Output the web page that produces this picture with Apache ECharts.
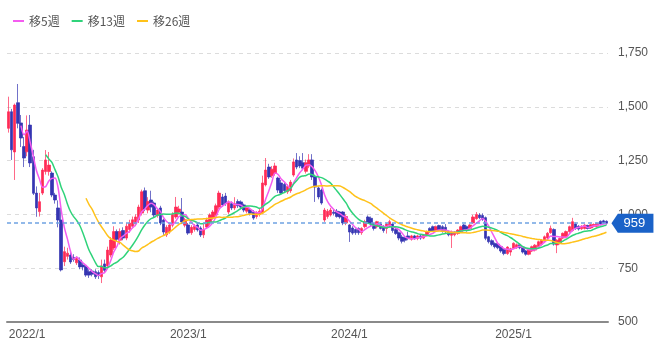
<!DOCTYPE html>
<html><head><meta charset="utf-8">
<script src="https://cdn.jsdelivr.net/npm/echarts@6/dist/echarts.min.js"></script>
<style>html,body{margin:0;padding:0;background:#fff}#c{width:659px;height:360px}</style>
</head><body><div id="c"></div>
<script>
// ---- data ----
const startDate = '2021-11-22'; // first weekly bar (Monday)
const yMin = 500, yMax = 1750, yStep = 250;
const lastPrice = 959;
const maNames = ['移5週', '移13週', '移26週'];
const maPeriods = [5, 13, 26];
const maColors = ['#f45cf0', '#2fd37a', '#ffc21a'];

// weekly candles [open, close, low, high]
const weeks2021 = [
  [1400,1477,1380,1547],[1477,1300,1253,1490],[1290,1508,1160,1515],[1519,1423,1400,1606],
  [1425,1355,1313,1462],[1315,1262,1220,1360]
];
const weeks2022 = [
  [1291,1392,1270,1460],[1415,1239,1220,1462],[1268,1098,1090,1300],[1099,1030,989,1130],
  [1013,1059,990,1100],[1099,1206,1090,1215],[1199,1253,1185,1299],[1199,1229,1180,1290],
  [1192,1090,1080,1200],[1090,1067,1050,1100],[1030,974,940,1065],[974,742,735,1030],
  [780,827,760,850],[805,820,790,845],[811,779,770,830],[800,790,780,815],
  [775,795,765,805],[788,756,745,800],[765,756,740,780],[757,718,710,765],
  [734,718,705,745],[737,722,712,745],[734,710,700,745],[730,715,700,740],
  [710,760,681,790],[770,740,730,790],[760,834,750,850],[811,881,800,895],
  [844,920,835,945],[920,885,875,930],[880,920,860,935],[925,890,880,940],
  [890,945,880,960],[930,960,915,975],[945,975,935,990],[955,988,945,1000],
  [974,1034,960,1045],[1006,1105,995,1115],[1110,1025,1015,1125],[1020,1060,1005,1080],
  [1067,1034,1010,1110],[1053,997,985,1060],[995,1020,985,1030],[1030,960,950,1040],
  [974,918,905,980],[905,940,895,950],[918,951,910,960],[950,1000,940,1010],
  [988,1034,980,1081],[1010,1025,1000,1040],[1011,965,955,1076],[950,975,940,985]
];
const weeks2023 = [
  [951,913,905,960],[915,940,905,950],[930,945,920,955],[951,928,920,960],
  [937,904,895,945],[905,930,890,960],[941,974,935,985],[960,997,950,1005],
  [983,1011,975,1020],[1000,1040,990,1050],[1034,1099,1025,1110],[1081,1044,1035,1095],
  [1085,1050,1040,1100],[1011,1058,1000,1065],[1050,1030,1020,1060],[1030,1050,1020,1080],
  [1060,1040,1030,1070],[1058,1034,1025,1065],[1044,1020,1010,1050],[1015,1030,1005,1040],
  [1020,1005,995,1030],[1011,983,975,1020],[990,1005,980,1015],[1000,1015,990,1025],
  [1006,1146,1000,1180],[1137,1206,1130,1262],[1220,1174,1165,1235],[1180,1210,1170,1225],
  [1190,1225,1180,1240],[1169,1113,1100,1175],[1146,1099,1090,1160],[1140,1110,1100,1150],
  [1105,1130,1095,1140],[1110,1150,1100,1160],[1183,1244,1175,1260],[1253,1220,1210,1285],
  [1250,1225,1215,1270],[1240,1215,1205,1285],[1200,1240,1190,1255],[1225,1253,1215,1280],
  [1253,1174,1160,1280],[1174,1127,1058,1185],[1123,1081,1070,1130],[1113,1053,1045,1120],
  [974,1020,965,1030],[990,1015,980,1025],[997,1020,990,1030],[1010,1005,995,1025],
  [1015,990,985,1025],[1011,988,980,1015],[1011,960,950,1015],[960,990,950,1000]
];
const weeks2024 = [
  [951,918,872,955],[937,913,905,945],[930,915,905,935],[935,915,905,940],
  [915,935,905,940],[943,966,935,975],[988,960,955,995],[982,955,945,990],
  [955,935,925,960],[943,966,935,970],[955,935,930,965],[943,925,915,950],
  [935,955,911,960],[945,966,940,975],[955,925,915,960],[930,911,905,940],
  [915,890,880,920],[895,875,865,905],[890,880,870,897],[900,888,880,920],
  [885,900,878,905],[900,890,882,905],[888,900,880,905],[900,890,882,905],
  [890,903,885,908],[903,920,898,925],[935,922,915,940],[943,925,918,948],
  [928,943,922,948],[948,928,922,952],[943,922,915,950],[940,920,912,955],
  [920,905,898,925],[903,918,844,925],[905,917,898,922],[911,927,905,932],
  [920,943,915,948],[951,930,922,955],[943,928,920,948],[935,951,930,955],
  [960,988,955,998],[980,1000,975,1011],[997,985,978,1006],[995,978,970,1005],
  [985,889,880,990],[896,873,865,900],[878,860,852,884],[865,850,842,870],
  [862,845,838,868],[850,830,822,855],[838,818,810,842],[818,848,812,852],
  [825,840,808,845]
];
const weeks2025 = [
  [843,866,838,870],[845,859,840,865],[859,845,838,865],[848,825,818,852],
  [830,815,808,835],[815,835,810,840],[830,850,825,855],[834,857,828,862],
  [850,873,845,878],[860,880,855,885],[875,896,870,902],[890,912,885,918],
  [915,935,910,948],[930,862,855,935],[858,880,820,885],[868,888,860,892],
  [890,912,885,916],[898,920,893,925],[920,943,915,948],[925,966,920,984],
  [955,935,928,962],[945,932,925,950],[933,945,928,950],[935,950,930,955],
  [948,935,930,952],[937,952,932,957],[945,953,940,958],[945,958,940,962],
  [968,955,950,972],[970,960,955,975],[968,959,952,972]
];

// ---- build ----
const candles = [].concat(weeks2021, weeks2022, weeks2023, weeks2024, weeks2025);
const dates = [];
{
  const d0 = new Date(startDate + 'T00:00:00Z');
  for (let i = 0; i < candles.length; i++) {
    const d = new Date(d0.getTime() + i * 7 * 86400000);
    dates.push(d.getUTCFullYear() + '/' + (d.getUTCMonth() + 1) + '/' + d.getUTCDate());
  }
}
function isYearStart(i) {
  const m = +dates[i].split('/')[1];
  if (m !== 1) return false;
  if (i === 0) return true;
  return +dates[i - 1].split('/')[1] !== 1;
}
function movingAvg(n) {
  const out = [];
  for (let i = 0; i < candles.length; i++) {
    if (i < n - 1) { out.push(null); continue; }
    let s = 0;
    for (let j = i - n + 1; j <= i; j++) s += candles[j][1];
    out.push(+(s / n).toFixed(2));
  }
  return out;
}

const chart = echarts.init(document.getElementById('c'), null, { renderer: 'canvas' });
const axisFont = "'Liberation Sans', Arial, sans-serif";
const cjkFont = "'Noto Sans CJK JP', 'Noto Sans', sans-serif";

const series = [{
  type: 'candlestick',
  name: 'price',
  data: candles,
  barWidth: 3,
  itemStyle: {
    color: '#ff2a55', color0: '#3535b2',
    borderColor: 'rgba(255,42,85,0.7)', borderColor0: 'rgba(53,53,178,0.7)',
    borderWidth: 1
  },
  markLine: {
    silent: true, symbol: 'none',
    lineStyle: { color: '#6fa3e2', type: [4, 3], width: 1.5 },
    label: { show: false },
    data: [{ yAxis: lastPrice }]
  },
  markPoint: {
    silent: true,
    symbol: 'path://M0,10 L7,0 L46,0 L46,20 L7,20 Z',
    symbolSize: [42, 19],
    symbolOffset: [26, 0],
    itemStyle: { color: '#1a62c8' },
    label: {
      show: true, position: 'inside', color: '#fff', fontSize: 13, fontFamily: axisFont,
      offset: [2, 0], formatter: String(lastPrice)
    },
    data: [{ coord: [dates[dates.length - 1], lastPrice], value: lastPrice }]
  },
  z: 2
}];
maNames.forEach((nm, k) => {
  series.push({
    type: 'line', name: nm, data: movingAvg(maPeriods[k]),
    showSymbol: false, symbol: 'none', smooth: 0.3,
    lineStyle: { color: maColors[k], width: 1.5 },
    itemStyle: { color: maColors[k] },
    z: 3
  });
});

chart.setOption({
  animation: false,
  backgroundColor: '#fff',
  legend: {
    data: maNames, left: 8, top: 10,
    icon: 'rect', itemWidth: 11, itemHeight: 2, itemGap: 12,
    textStyle: { color: '#555', fontSize: 12, fontFamily: cjkFont }
  },
  grid: { left: 7, right: 51, top: 53, bottom: 38 },
  xAxis: {
    type: 'category', data: dates, boundaryGap: true,
    axisLine: { lineStyle: { color: '#8a8a8a', width: 2 } },
    axisTick: { show: false },
    axisLabel: {
      interval: (i) => isYearStart(i),
      formatter: (v) => { const p = v.split('/'); return p[0] + '/' + p[1]; },
      color: '#555', fontSize: 12, fontFamily: axisFont, margin: 7
    },
    splitLine: { show: false }
  },
  yAxis: {
    type: 'value', position: 'right', min: yMin, max: yMax, interval: yStep,
    axisLine: { show: false }, axisTick: { show: false },
    axisLabel: {
      color: '#555', fontSize: 12, fontFamily: axisFont, margin: 10,
      formatter: (v) => v.toLocaleString('en-US')
    },
    splitLine: { lineStyle: { color: '#dcdcdc', type: [4, 4], width: 1 } }
  },
  series
});
</script>
</body></html>
